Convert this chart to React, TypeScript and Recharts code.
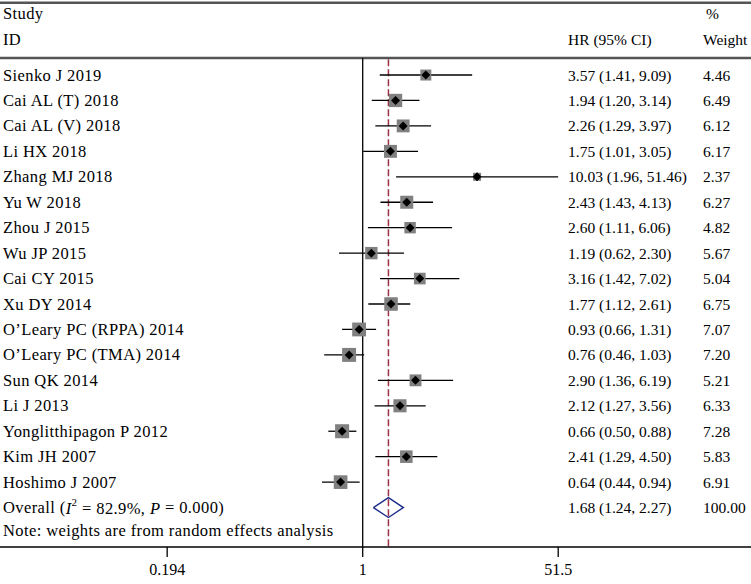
import {
  ComposedChart,
  Scatter,
  XAxis,
  YAxis,
  ErrorBar,
  ReferenceLine,
} from "recharts";

const STUDIES = [
  "Sienko J 2019",
  "Cai AL (T) 2018",
  "Cai AL (V) 2018",
  "Li HX 2018",
  "Zhang MJ 2018",
  "Yu W 2018",
  "Zhou J 2015",
  "Wu JP 2015",
  "Cai CY 2015",
  "Xu DY 2014",
  "O\u2019Leary PC (RPPA) 2014",
  "O\u2019Leary PC (TMA) 2014",
  "Sun QK 2014",
  "Li J 2013",
  "Yonglitthipagon P 2012",
  "Kim JH 2007",
  "Hoshimo J 2007",
];
const HR = [3.57, 1.94, 2.26, 1.75, 10.03, 2.43, 2.6, 1.19, 3.16, 1.77, 0.93, 0.76, 2.9, 2.12, 0.66, 2.41, 0.64];
const LOWER = [1.41, 1.2, 1.29, 1.01, 1.96, 1.43, 1.11, 0.62, 1.42, 1.12, 0.66, 0.46, 1.36, 1.27, 0.5, 1.29, 0.44];
const UPPER = [9.09, 3.14, 3.97, 3.05, 51.46, 4.13, 6.06, 2.3, 7.02, 2.61, 1.31, 1.03, 6.19, 3.56, 0.88, 4.5, 0.94];
const WEIGHTS = [4.46, 6.49, 6.12, 6.17, 2.37, 6.27, 4.82, 5.67, 5.04, 6.75, 7.07, 7.2, 5.21, 6.33, 7.28, 5.83, 6.91];

const OVERALL_HR = 1.68;
const OVERALL_CI = [1.24, 2.27];
const OVERALL_WEIGHT = 100;

const X_TICKS = [0.0194, 1, 51.5];
const X_TICK_LABELS = ["0.194", "1", "51.5"];

const FONT = "'Liberation Serif', 'Times New Roman', serif";
const W = 751;
const H = 584;

// layout (axis units: x = log10 HR, y = row index)
const X_DOMAIN = [-3.176, 3.4];
const Y_DOMAIN = [-2.87, 18.55];
const COL_NAME = -3.15;
const COL_HR = 1.798;
const COL_WT = 2.98;
const COL_PCT = 3.006;
const ROW_STUDY = -2.4;
const ROW_ID = -1.38;
const ROW_OVERALL = STUDIES.length;
const ROW_NOTE = 17.92;
const RULE_TOP = -2.84;
const RULE_HEAD = -0.67;
const DIAMOND_HALF = 0.39;
const BOX_K = 5.2;

const lg = Math.log10;
const f2 = (v: number) => v.toFixed(2);

const studyRows = STUDIES.map((name, i) => ({
  x: lg(HR[i]),
  row: i,
  weight: WEIGHTS[i],
  err: [lg(HR[i]) - lg(LOWER[i]), lg(UPPER[i]) - lg(HR[i])],
}));

const diamond = [
  { x: lg(OVERALL_CI[0]), row: ROW_OVERALL },
  { x: lg(OVERALL_HR), row: ROW_OVERALL - DIAMOND_HALF },
  { x: lg(OVERALL_CI[1]), row: ROW_OVERALL },
  { x: lg(OVERALL_HR), row: ROW_OVERALL + DIAMOND_HALF },
  { x: lg(OVERALL_CI[0]), row: ROW_OVERALL },
];

const nameTexts = [
  { x: COL_NAME, row: ROW_STUDY, label: "Study" },
  { x: COL_NAME, row: ROW_ID, label: "ID" },
  ...STUDIES.map((s, i) => ({ x: COL_NAME, row: i, label: s })),
  { x: COL_NAME, row: ROW_OVERALL, label: "", overall: true },
  { x: COL_NAME, row: ROW_NOTE, label: "Note: weights are from random effects analysis" },
];

const hrTexts = [
  { x: COL_HR, row: ROW_ID, label: "HR (95% CI)" },
  ...STUDIES.map((_, i) => ({
    x: COL_HR,
    row: i,
    label: `${f2(HR[i])} (${f2(LOWER[i])}, ${f2(UPPER[i])})`,
  })),
  {
    x: COL_HR,
    row: ROW_OVERALL,
    label: `${f2(OVERALL_HR)} (${f2(OVERALL_CI[0])}, ${f2(OVERALL_CI[1])})`,
  },
];

const wtTexts = [
  { x: COL_PCT, row: ROW_STUDY, label: "%" },
  { x: COL_WT, row: ROW_ID, label: "Weight" },
  ...WEIGHTS.map((w, i) => ({ x: COL_WT, row: i, label: f2(w) })),
  { x: COL_WT, row: ROW_OVERALL, label: f2(OVERALL_WEIGHT) },
];

const NameShape = (p: any) => {
  const { cx, cy, payload } = p;
  const common = {
    x: cx,
    y: cy,
    dominantBaseline: "central" as const,
    fontSize: 16.5,
    letterSpacing: 0.4,
    fontFamily: FONT,
    fill: "#000",
  };
  if (payload.overall) {
    return (
      <text {...common}>
        Overall (<tspan fontStyle="italic">I</tspan>
        <tspan dy={-6} fontSize={11}>2</tspan>
        <tspan dy={6}> = 82.9%, </tspan>
        <tspan fontStyle="italic">P</tspan> = 0.000)
      </text>
    );
  }
  return <text {...common}>{payload.label}</text>;
};

const NumShape = (p: any) => {
  const { cx, cy, payload } = p;
  return (
    <text x={cx} y={cy} dominantBaseline="central" fontSize={15.5} fontFamily={FONT} fill="#000">
      {payload.label}
    </text>
  );
};

const BoxShape = (p: any) => {
  const { cx, cy, payload } = p;
  const s = BOX_K * Math.sqrt(payload.weight);
  const d = 4.5;
  return (
    <g>
      <rect x={cx - s / 2} y={cy - s / 2} width={s} height={s} fill="#808080" />
      <polygon
        points={`${cx - d},${cy} ${cx},${cy - d} ${cx + d},${cy} ${cx},${cy + d}`}
        fill="#000"
      />
    </g>
  );
};

export default function App() {
  return (
    <div style={{ position: "absolute", left: 0, top: 0, width: W, height: H, background: "#fff" }}>
      <ComposedChart width={W} height={H} margin={{ top: 2, right: 0, bottom: 0, left: 0 }}>
        <XAxis
          type="number"
          dataKey="x"
          domain={X_DOMAIN}
          allowDataOverflow
          ticks={X_TICKS.map(lg)}
          tickFormatter={(v: number) => {
            const i = X_TICKS.findIndex((t) => Math.abs(lg(t) - v) < 1e-6);
            return i >= 0 ? X_TICK_LABELS[i] : "";
          }}
          height={37}
          tickSize={10}
          tickMargin={7}
          axisLine={{ stroke: "#000", strokeWidth: 1.3 }}
          tickLine={{ stroke: "#000", strokeWidth: 1.3 }}
          tick={{ fill: "#000", fontSize: 16, fontFamily: FONT }}
        />
        <YAxis type="number" dataKey="row" domain={Y_DOMAIN} reversed hide allowDataOverflow />

        <ReferenceLine y={RULE_TOP} stroke="#555" strokeWidth={2.4} />
        <ReferenceLine y={RULE_HEAD} stroke="#555" strokeWidth={2.4} />
        <ReferenceLine
          segment={[
            { x: 0, y: RULE_HEAD },
            { x: 0, y: Y_DOMAIN[1] },
          ]}
          stroke="#000"
          strokeWidth={1.3}
        />
        <ReferenceLine
          segment={[
            { x: lg(OVERALL_HR), y: RULE_HEAD + 0.05 },
            { x: lg(OVERALL_HR), y: Y_DOMAIN[1] },
          ]}
          stroke="#993344"
          strokeWidth={1.5}
          strokeDasharray="7 3"
        />

        <Scatter data={studyRows} shape={BoxShape} isAnimationActive={false}>
          <ErrorBar dataKey="err" direction="x" width={0} stroke="#000" strokeWidth={1.3} />
        </Scatter>
        <Scatter
          data={diamond}
          line={{ stroke: "#1c2d8c", strokeWidth: 1.4 }}
          lineJointType="linear"
          shape={() => <g />}
          isAnimationActive={false}
        />
        <Scatter data={nameTexts} shape={NameShape} isAnimationActive={false} />
        <Scatter data={hrTexts} shape={NumShape} isAnimationActive={false} />
        <Scatter data={wtTexts} shape={NumShape} isAnimationActive={false} />
      </ComposedChart>
    </div>
  );
}
